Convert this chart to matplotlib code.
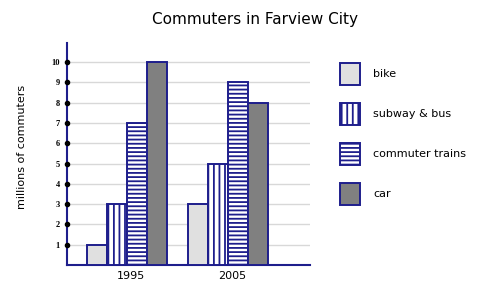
import matplotlib.pyplot as plt
from matplotlib.patches import Rectangle

# data
years = ['1995', '2005']
modes = ['bike', 'subway & bus', 'commuter trains', 'car']
bike = [1, 3]
subway_bus = [3, 5]
commuter_trains = [7, 9]
car = [10, 8]

navy = '#1e1e8c'
fills = ['#e0e0e0', 'white', 'white', '#808080']
hatches = [None, '|||', '----', None]
series = [bike, subway_bus, commuter_trains, car]

plt.rcParams['hatch.linewidth'] = 1.3

fig = plt.figure(figsize=(4.83, 2.93), dpi=100)
ax = fig.add_axes([0.1387, 0.0956, 0.503, 0.7577])

group_start = [1.0, 6.05]
width = 1.0
for i, vals in enumerate(series):
    xs = [g + i * width for g in group_start]
    ax.bar(xs, vals, width=width, align='edge', color=fills[i],
           edgecolor=navy, linewidth=1.4, hatch=hatches[i], zorder=3)

ax.set_xlim(0, 12.15)
ax.set_ylim(0, 10.94)

# gridlines
yt = list(range(1, 11))
for y in yt:
    ax.axhline(y, color='#d8d8d8', linewidth=1, zorder=1)

ax.set_yticks(yt)
ax.set_yticklabels([str(v) for v in yt], family='Liberation Serif',
                   fontweight='bold', fontsize=6)
ax.tick_params(axis='y', length=0, pad=5)
ax.plot([0] * len(yt), yt, 'o', color='black', markersize=3,
        clip_on=False, zorder=5)

centers = [g + 2 * width + 0.2 for g in group_start]
ax.set_xticks(centers)
ax.set_xticklabels(years, fontsize=8)
ax.tick_params(axis='x', length=0, pad=4)

for s in ['top', 'right']:
    ax.spines[s].set_visible(False)
for s in ['left', 'bottom']:
    ax.spines[s].set_color(navy)
    ax.spines[s].set_linewidth(1.5)

fig.text(0.528, 0.932, 'Commuters in Farview City', ha='center',
         va='center', fontsize=11)
fig.text(0.045, 0.5, 'millions of commuters', rotation=90,
         ha='center', va='center', fontsize=8)

# legend drawn by hand
W, H = 483, 293
for i, label in enumerate(modes):
    top = 63 + 40 * i
    r = Rectangle((340 / W, 1 - (top + 22) / H), 20 / W, 22 / H,
                  transform=fig.transFigure, facecolor=fills[i],
                  edgecolor=navy, linewidth=1.4, hatch=hatches[i])
    fig.patches.append(r)
    fig.text(373 / W, 1 - (top + 11) / H, label, ha='left', va='center',
             fontsize=8)

fig.savefig('out.png', dpi=100)
